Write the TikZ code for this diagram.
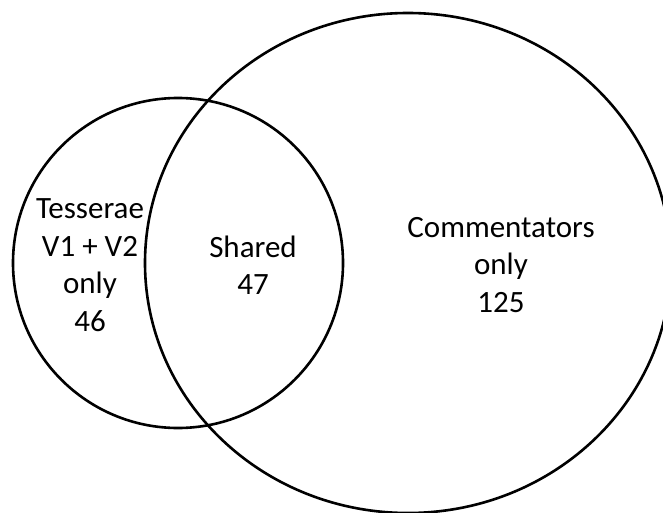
\documentclass[tikz,border=0pt]{standalone}
\usepackage{fontspec}
\setmainfont{Carlito}
\usetikzlibrary{shapes.geometric}

\begin{document}
\begin{tikzpicture}[
		x=1pt, y=-1pt,
		line width=2.6pt,
		set/.style= {
				draw,
				inner sep=0pt
			},
		setlabel/.style= {
				align=center,
				inner sep=0pt,
				font=\fontsize{31}{37.5}\selectfont
			}
	]
	\useasboundingbox (0,0) rectangle (663,513);

	\node[set, circle, minimum size=330] (tesserae) at (178,263) {};
	\node[set, ellipse, minimum width=526, minimum height=500] (commentators) at (408,263) {};

	\node[setlabel] (tesseraeonly) at (90,265) {Tesserae\\V1 + V2\\only\\46};
	\node[setlabel] (shared) at (253,265) {Shared\\47};
	\node[setlabel] (commentatorsonly) at (501,265) {Commentators\\only\\125};
\end{tikzpicture}
\end{document}
